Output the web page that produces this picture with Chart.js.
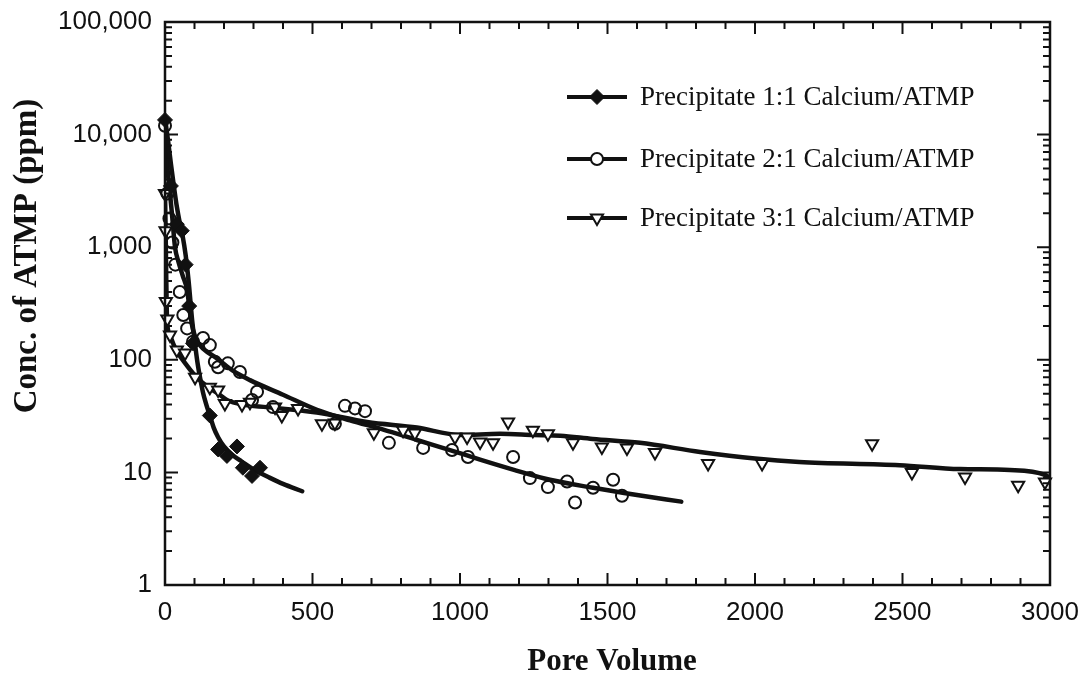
<!DOCTYPE html>
<html>
<head>
<meta charset="utf-8">
<title>ATMP return curves</title>
<script src="https://cdn.jsdelivr.net/npm/chart.js@4"></script>
<style>
  html, body { margin: 0; padding: 0; background: #fff; }
  #wrap { width: 1088px; height: 678px; position: relative; }
</style>
</head>
<body>
<div id="wrap"><canvas id="chart"></canvas></div>
<script>
// Series labels and axis titles
const seriesLabels = [
  'Precipitate 1:1 Calcium/ATMP',
  'Precipitate 2:1 Calcium/ATMP',
  'Precipitate 3:1 Calcium/ATMP'
];
const xTitle = 'Pore Volume';
const yTitle = 'Conc. of ATMP (ppm)';

// Tick values
const xTicks = [0, 500, 1000, 1500, 2000, 2500, 3000];
const yTicks = [1, 10, 100, 1000, 10000, 100000];

// 1:1 precipitate - measured points and fitted curve
const s1PointX = [0, 20, 40, 57, 70, 82, 95, 152, 180, 210, 244, 264, 295, 322];
const s1PointY = [13500, 3500, 1600, 1400, 700, 300, 140, 32, 16, 14, 17, 11, 9.3, 11];
const s1CurveX = [0, 10, 20, 30, 40, 50, 60, 70, 80, 92, 100, 110, 120, 129, 140, 152, 165, 180, 200, 230, 260, 300, 350, 400, 465];
const s1CurveY = [14000, 9000, 5500, 3500, 2300, 1650, 1250, 850, 500, 225, 150, 95, 67, 51, 40, 32, 25, 20.5, 17, 14.2, 12.5, 10.6, 9.1, 7.9, 6.8];

// 2:1 precipitate
const s2PointX = [0, 8, 15, 25, 35, 50, 62, 75, 95, 129, 152, 169, 180, 213, 254, 295, 312, 366, 576, 610, 644, 678, 759, 875, 973, 1027, 1180, 1237, 1298, 1363, 1390, 1451, 1519, 1549];
const s2PointY = [12000, 3000, 1800, 1100, 700, 400, 250, 190, 145, 156, 135, 96, 86, 93, 78, 44, 52, 38, 27, 39, 37, 35, 18.3, 16.5, 15.8, 13.7, 13.7, 8.9, 7.4, 8.3, 5.4, 7.3, 8.6, 6.2];
const s2CurveX = [0, 10, 17, 25, 34, 45, 60, 75, 85, 95, 110, 130, 176, 230, 288, 400, 515, 627, 740, 854, 966, 1068, 1180, 1305, 1451, 1600, 1750];
const s2CurveY = [12000, 4500, 3000, 1800, 1000, 750, 560, 417, 260, 185, 145, 125, 103, 80, 66, 49, 36, 29, 24, 19.4, 15.8, 13, 10.6, 8.6, 7.3, 6.3, 5.5];

// 3:1 precipitate
const s3PointX = [0, 2, 3, 8, 17, 40, 68, 102, 152, 180, 203, 261, 288, 373, 396, 451, 532, 576, 708, 807, 847, 983, 1024, 1068, 1112, 1163, 1247, 1298, 1383, 1481, 1566, 1661, 1841, 2024, 2397, 2532, 2712, 2892, 2983];
const s3PointY = [3000, 1400, 330, 230, 166, 122, 115, 70, 57, 54, 41, 40, 42, 38, 32, 37, 27, 27.5, 22.5, 23.7, 22.4, 20.6, 20.6, 18.6, 18.3, 28, 23.7, 22, 18.3, 16.8, 16.5, 15, 12, 12, 18, 10, 9.1, 7.7, 8.2];
const s3CurveX = [0, 2, 4, 7, 15, 30, 44, 70, 95, 120, 152, 180, 210, 264, 345, 515, 685, 854, 1000, 1136, 1250, 1340, 1450, 1610, 1814, 2000, 2150, 2490, 2695, 2864, 2983, 3000];
const s3CurveY = [3000, 1500, 600, 225, 170, 135, 115, 92, 76, 65, 56, 50, 44, 40, 38, 34, 28, 25, 21.5, 22, 21.5, 21.2, 19.8, 18.3, 15.2, 13.3, 12.4, 11.6, 10.7, 10.5, 9.5, 8.9];

const zip = (xs, ys) => xs.map((x, i) => ({ x: x, y: ys[i] }));

const markers = [
  { pointStyle: 'rectRot', radius: 7.5, rotation: 0, fill: '#111', border: 1 },
  { pointStyle: 'circle', radius: 6, rotation: 0, fill: 'rgba(255,255,255,0)', border: 2 },
  { pointStyle: 'triangle', radius: 7, rotation: 180, fill: '#fff', border: 2 }
];

function pointSet(xs, ys, m) {
  return {
    type: 'scatter',
    data: zip(xs, ys),
    showLine: false,
    pointStyle: m.pointStyle,
    pointRadius: m.radius,
    pointRotation: m.rotation,
    pointBackgroundColor: m.fill,
    pointBorderColor: '#111',
    pointBorderWidth: m.border,
    clip: false,
    order: 0
  };
}

function curveSet(xs, ys) {
  return {
    type: 'line',
    data: zip(xs, ys),
    borderColor: '#111',
    borderWidth: 4.5,
    pointRadius: 0,
    fill: false,
    tension: 0.4,
    cubicInterpolationMode: 'monotone',
    borderCapStyle: 'round',
    order: 1
  };
}

// box frame with inward ticks on all four sides, plus the axis titles
const frameTicks = {
  id: 'frameTicks',
  afterDraw(chart) {
    const { ctx, chartArea: a, scales: { x, y } } = chart;
    ctx.save();
    ctx.strokeStyle = '#111';
    ctx.lineWidth = 2;
    ctx.beginPath();
    for (let v = 0; v <= 3000; v += 100) {
      const px = x.getPixelForValue(v);
      const len = v % 500 === 0 ? 12 : 7;
      ctx.moveTo(px, a.bottom); ctx.lineTo(px, a.bottom - len);
      ctx.moveTo(px, a.top); ctx.lineTo(px, a.top + len);
    }
    for (let d = 1; d < 100000; d *= 10) {
      for (let m = 1; m <= 9; m++) {
        const py = y.getPixelForValue(d * m);
        const len = m === 1 ? 13 : 7;
        ctx.moveTo(a.left, py); ctx.lineTo(a.left + len, py);
        ctx.moveTo(a.right, py); ctx.lineTo(a.right - len, py);
      }
    }
    ctx.stroke();
    ctx.lineWidth = 2.5;
    ctx.strokeRect(a.left, a.top, a.right - a.left, a.bottom - a.top);

    ctx.fillStyle = '#111';
    ctx.textAlign = 'center';
    ctx.font = 'bold 31px "Liberation Serif", "Times New Roman", serif';
    ctx.textBaseline = 'alphabetic';
    ctx.fillText(xTitle, 612, 670);
    ctx.translate(27, 256);
    ctx.rotate(-Math.PI / 2);
    ctx.font = 'bold 33px "Liberation Serif", "Times New Roman", serif';
    ctx.textBaseline = 'middle';
    ctx.fillText(yTitle, 0, 0);
    ctx.restore();
  }
};

// legend: line sample with its marker, then the label
const insideLegend = {
  id: 'insideLegend',
  afterDraw(chart) {
    const { ctx } = chart;
    const rows = [97, 159, 218];
    ctx.save();
    rows.forEach((ry, i) => {
      const m = markers[i];
      ctx.strokeStyle = '#111';
      ctx.lineWidth = 4;
      ctx.beginPath();
      ctx.moveTo(567, ry); ctx.lineTo(627, ry);
      ctx.stroke();
      ctx.fillStyle = m.fill === 'rgba(255,255,255,0)' ? '#fff' : m.fill;
      ctx.lineWidth = m.border;
      Chart.helpers.drawPoint(ctx, {
        pointStyle: m.pointStyle, radius: m.radius, rotation: m.rotation, borderWidth: m.border
      }, 597, ry);
      ctx.fillStyle = '#111';
      ctx.font = '27px "Liberation Serif", "Times New Roman", serif';
      ctx.textBaseline = 'middle';
      ctx.textAlign = 'left';
      ctx.fillText(seriesLabels[i], 640, ry + 1);
    });
    ctx.restore();
  }
};

const tickFont = { family: '"Liberation Sans", Arial, sans-serif', size: 26 };

new Chart(document.getElementById('chart'), {
  data: {
    datasets: [
      pointSet(s1PointX, s1PointY, markers[0]),
      pointSet(s2PointX, s2PointY, markers[1]),
      pointSet(s3PointX, s3PointY, markers[2]),
      curveSet(s1CurveX, s1CurveY),
      curveSet(s2CurveX, s2CurveY),
      curveSet(s3CurveX, s3CurveY)
    ]
  },
  options: {
    responsive: true,
    maintainAspectRatio: false,
    devicePixelRatio: 1,
    animation: false,
    layout: { padding: { top: 22, right: 38, left: 0, bottom: 0 } },
    plugins: { legend: { display: false }, tooltip: { enabled: false } },
    scales: {
      x: {
        type: 'linear',
        min: 0,
        max: 3000,
        afterBuildTicks: s => { s.ticks = xTicks.map(v => ({ value: v })); },
        afterFit: s => { s.height = 93; s.paddingLeft = 0; s.paddingRight = 0; },
        grid: { display: false, drawTicks: false },
        border: { display: false },
        ticks: { color: '#111', font: tickFont, padding: 12, maxRotation: 0, callback: v => String(v) }
      },
      y: {
        type: 'logarithmic',
        min: 1,
        max: 100000,
        afterBuildTicks: s => { s.ticks = yTicks.map(v => ({ value: v })); },
        afterFit: s => { s.width = 165; s.paddingTop = 0; s.paddingBottom = 0; },
        grid: { display: false, drawTicks: false },
        border: { display: false },
        ticks: {
          color: '#111',
          font: tickFont,
          padding: 13,
          callback: v => Number(v).toLocaleString('en-US')
        }
      }
    }
  },
  plugins: [frameTicks, insideLegend]
});
</script>
</body>
</html>
